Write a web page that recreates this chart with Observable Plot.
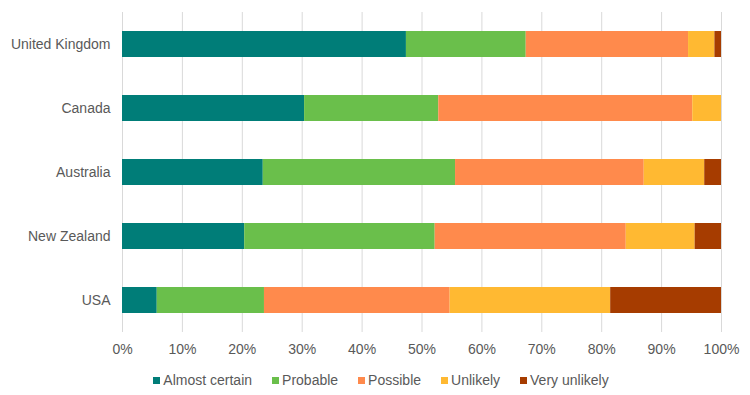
<!DOCTYPE html>
<html><head><meta charset="utf-8">
<script src="https://cdn.jsdelivr.net/npm/d3@7"></script>
<script src="https://cdn.jsdelivr.net/npm/@observablehq/plot@0.6"></script>
<style>
body{margin:0;background:#fff;font-family:"Liberation Sans",Arial,sans-serif;}
#legend{display:flex;justify-content:center;align-items:center;height:30px;font-size:14px;color:#595959;padding-left:12px;}
#legend .item{display:flex;align-items:center;margin:0 10px;}
#legend .sw{width:7px;height:7px;margin-right:3px;}
</style></head><body>
<div id="chart"></div>
<div id="legend"></div>
<script>
const countries = ["United Kingdom", "Canada", "Australia", "New Zealand", "USA"];
const categories = ["Almost certain", "Probable", "Possible", "Unlikely", "Very unlikely"];
const almostCertain = [47.4, 30.4, 23.5, 20.4, 5.8];
const probable = [20.0, 22.4, 32.1, 31.8, 17.9];
const possible = [27.1, 42.4, 31.5, 31.9, 31.0];
const unlikely = [4.4, 4.8, 10.1, 11.5, 26.8];
const veryUnlikely = [1.1, 0.0, 2.8, 4.4, 18.5];
const xTicks = [0, 10, 20, 30, 40, 50, 60, 70, 80, 90, 100];
const colors = ["#007d78", "#6abf4b", "#ff8a4c", "#ffb932", "#a63c00"];

const series = [almostCertain, probable, possible, unlikely, veryUnlikely];
const data = [];
countries.forEach((c, i) => {
  categories.forEach((cat, j) => {
    data.push({country: c, category: cat, value: series[j][i]});
  });
});

const chart = Plot.plot({
  width: 750,
  height: 365,
  marginTop: 12,
  marginBottom: 33,
  marginLeft: 122,
  marginRight: 29,
  style: {fontFamily: "'Liberation Sans', Arial, sans-serif", fontSize: "14px", color: "#595959", background: "#fff"},
  x: {domain: [0, 100], ticks: xTicks, tickFormat: d => d + "%", tickSize: 0, tickPadding: 12, label: null},
  y: {domain: countries, paddingInner: 0.6, paddingOuter: 0.3, tickSize: 0, tickPadding: 12, label: null},
  color: {domain: categories, range: colors},
  marks: [
    Plot.ruleX(xTicks, {stroke: "#d9d9d9", strokeWidth: 1}),
    Plot.barX(data, Plot.stackX({x: "value", y: "country", fill: "category", order: categories})),
  ]
});
document.getElementById("chart").appendChild(chart);

const legend = document.getElementById("legend");
categories.forEach((cat, j) => {
  const item = document.createElement("div");
  item.className = "item";
  const sw = document.createElement("div");
  sw.className = "sw";
  sw.style.background = colors[j];
  const t = document.createElement("span");
  t.textContent = cat;
  item.appendChild(sw); item.appendChild(t);
  legend.appendChild(item);
});
</script>
</body></html>
